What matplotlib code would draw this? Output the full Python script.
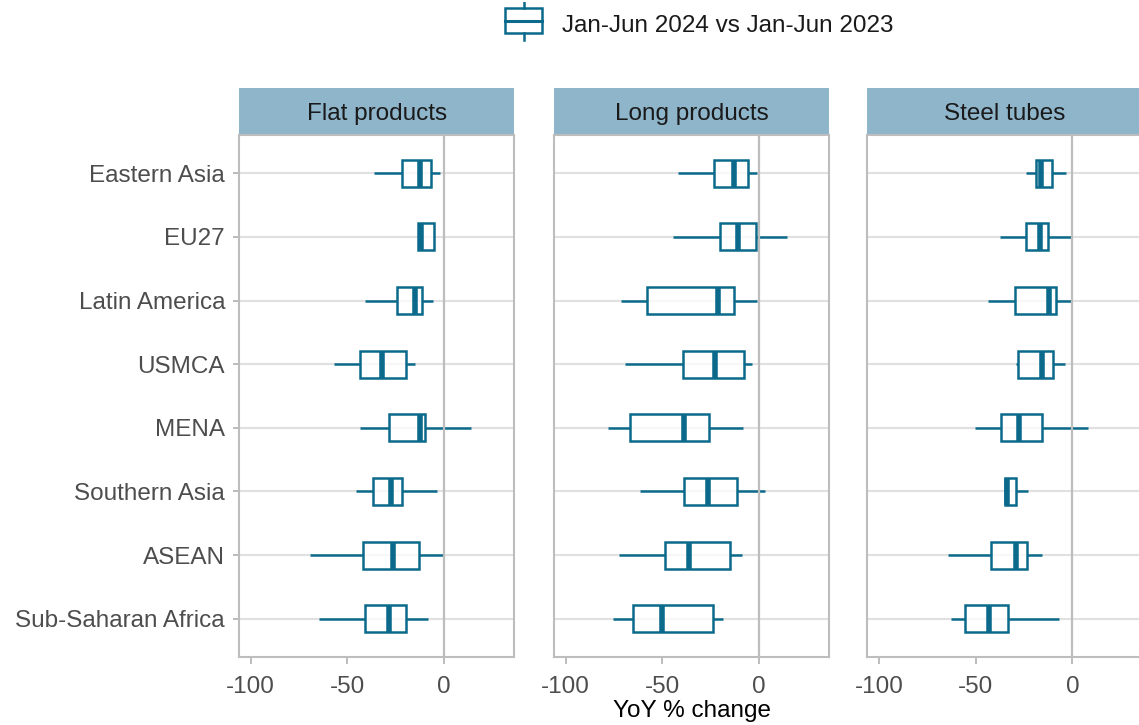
import matplotlib
matplotlib.use("Agg")
import matplotlib.pyplot as plt
from matplotlib.patches import Rectangle
from matplotlib.lines import Line2D

plt.rcParams['font.family'] = ['Liberation Sans', 'DejaVu Sans']

regions = ["Eastern Asia", "EU27", "Latin America", "USMCA", "MENA",
           "Southern Asia", "ASEAN", "Sub-Saharan Africa"]
panels = ["Flat products", "Long products", "Steel tubes"]

# per panel: lower whisker, Q1, median, Q3, upper whisker (YoY % change)
flat_lo = [-36.2, -13.4, -41.0, -56.8, -43.5, -45.6, -69.4, -64.6]
flat_q1 = [-21.5, -13.4, -24.1, -43.5, -28.4, -36.7, -42.0, -41.0]
flat_med = [-12.2, -11.7, -14.8, -32.0, -12.2, -27.5, -26.3, -28.4]
flat_q3 = [-7.0, -5.3, -11.2, -19.8, -10.1, -21.5, -13.2, -19.8]
flat_hi = [-1.9, -5.3, -5.7, -15.0, 13.8, -3.6, -0.8, -8.1]

long_lo = [-41.7, -44.3, -71.2, -69.2, -78.0, -61.6, -72.4, -75.4]
long_q1 = [-23.1, -20.3, -58.1, -39.3, -66.6, -38.8, -48.6, -65.0]
long_med = [-12.9, -11.0, -21.0, -22.9, -38.6, -26.2, -36.2, -50.2]
long_q3 = [-5.9, -1.4, -12.9, -7.8, -25.9, -11.4, -15.0, -23.8]
long_hi = [-0.9, 14.6, -1.2, -3.4, -8.4, 3.1, -8.8, -18.5]

tube_lo = [-23.8, -37.2, -43.5, -29.0, -50.2, -35.0, -64.3, -62.6]
tube_q1 = [-18.8, -24.0, -29.5, -28.1, -37.0, -35.0, -41.9, -55.7]
tube_med = [-16.4, -16.7, -12.1, -15.8, -27.6, -33.9, -29.3, -42.9]
tube_q3 = [-10.7, -12.7, -8.6, -10.1, -15.8, -29.0, -23.6, -33.1]
tube_hi = [-3.4, -0.8, -0.8, -3.8, 8.0, -22.8, -15.7, -7.0]

panel_data = [
    (flat_lo, flat_q1, flat_med, flat_q3, flat_hi),
    (long_lo, long_q1, long_med, long_q3, long_hi),
    (tube_lo, tube_q1, tube_med, tube_q3, tube_hi),
]

box_col = "#0b6a8b"
strip_col = "#8fb5cb"
frame_col = "#bdbdbd"
grid_col = "#e0e0e0"
fs = 17.5

W, H = 1139, 725
fig = plt.figure(figsize=(W / 100, H / 100), dpi=100)

lefts = [239, 554, 867.3]
pw, top, bottom = 275.3, 135, 657
ypos = list(range(1, len(regions) + 1))

for i, (name, (lo, q1, med, q3, hi)) in enumerate(zip(panels, panel_data)):
    ax = fig.add_axes([lefts[i] / W, (H - bottom) / H, pw / W, (bottom - top) / H])
    stats = []
    for j in range(len(regions)):
        stats.append(dict(whislo=lo[j], q1=q1[j], med=med[j], q3=q3[j],
                          whishi=hi[j], fliers=[]))
    ax.bxp(stats, positions=ypos, widths=0.42, orientation='horizontal',
           showcaps=False, showfliers=False, patch_artist=True,
           boxprops=dict(facecolor=(1, 1, 1, 0.75), edgecolor=box_col, linewidth=1.8),
           whiskerprops=dict(color=box_col, linewidth=1.8, solid_capstyle='butt'),
           medianprops=dict(color=box_col, linewidth=4.0, solid_capstyle='butt'),
           zorder=3)
    ax.axvline(0, color=frame_col, linewidth=1.6, zorder=4)
    for y in ypos:
        ax.axhline(y, color=grid_col, linewidth=1.5, zorder=1)
    ax.set_xlim(-106, 36.3)
    ax.set_ylim(8.6, 0.4)
    ax.set_xticks([-100, -50, 0])
    ax.set_xticklabels(["-100", "-50", "0"])
    ax.set_yticks(ypos)
    if i == 0:
        ax.set_yticklabels(regions, va='center_baseline')
    else:
        ax.set_yticklabels([])
        ax.tick_params(axis='y', length=0)
    ax.tick_params(axis='both', labelsize=fs, labelcolor="#4d4d4d",
                   color=frame_col, width=1.4)
    ax.tick_params(axis='x', length=5, pad=9)
    if i == 0:
        ax.tick_params(axis='y', length=4, pad=6)
    for s in ax.spines.values():
        s.set_color(frame_col)
        s.set_linewidth(1.5)
    # facet strip
    sh = (top - 88) / (bottom - top)
    ax.add_patch(Rectangle((0, 1), 1, sh, transform=ax.transAxes,
                           facecolor=strip_col, edgecolor='none', clip_on=False))
    ax.text(0.5, 1 + sh / 2, name, transform=ax.transAxes, ha='center',
            va='center_baseline', fontsize=fs, color="#1a1a1a")
    if i == 1:
        ax.set_xlabel("YoY % change", fontsize=fs, color="black", labelpad=1)

# legend key at the top
lax = fig.add_axes([500 / W, (H - 42) / H, 48 / W, 40 / H])
lax.set_xlim(0, 48)
lax.set_ylim(0, 40)
lax.axis('off')
lax.add_patch(Rectangle((5, 9), 37, 25, facecolor='white', edgecolor=box_col, linewidth=1.8))
lax.add_line(Line2D([23.5, 23.5], [2, 9], color=box_col, linewidth=1.8))
lax.add_line(Line2D([23.5, 23.5], [34, 40], color=box_col, linewidth=1.8))
lax.add_line(Line2D([5, 42], [21.5, 21.5], color=box_col, linewidth=2.2))
fig.text(562 / W, 1 - 23 / H, "Jan-Jun 2024 vs Jan-Jun 2023", fontsize=fs,
         va='center_baseline', ha='left', color="#1a1a1a")

fig.savefig("out.png", dpi=100)
